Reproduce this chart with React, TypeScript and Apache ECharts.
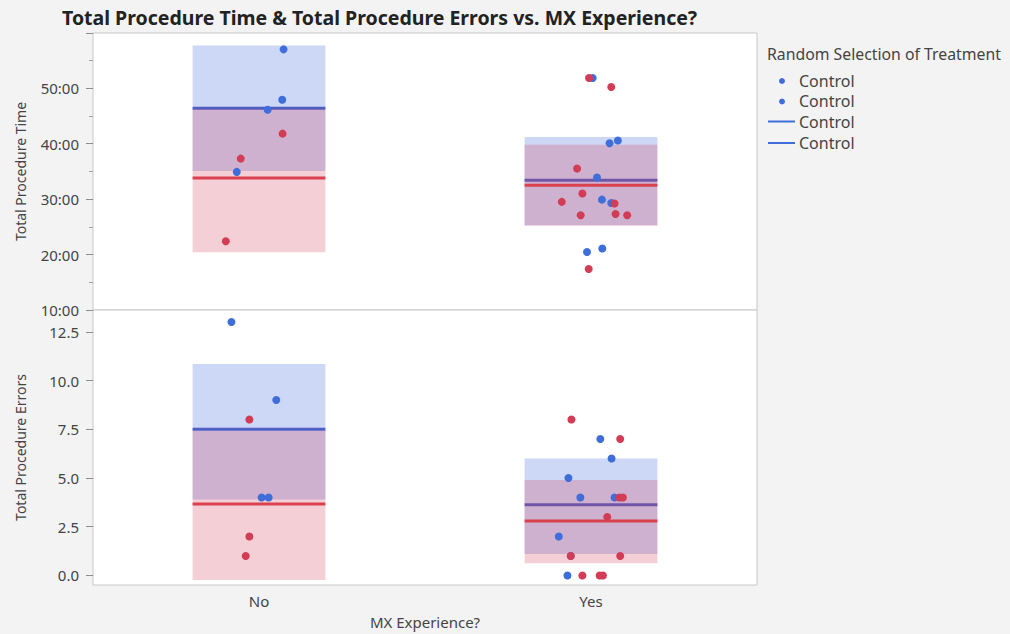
import React, { useEffect, useRef } from 'react';
import * as echarts from 'echarts';

const categories = ['No', 'Yes'];
const legendTitle = 'Random Selection of Treatment';
const legendLabels = ['Control', 'Control', 'Control', 'Control'];
const timeTicks = [10, 20, 30, 40, 50];
const errorTicks = [0, 2.5, 5, 7.5, 10, 12.5];

// Total Procedure Time (minutes) – points per category, with horizontal jitter
const timeBlueNo = [57.0, 47.9, 46.1, 34.9];
const timeBlueNoJitter = [0.074, 0.07, 0.026, -0.067];
const timeRedNo = [41.8, 37.3, 22.4];
const timeRedNoJitter = [0.071, -0.055, -0.1];
const timeBlueYes = [51.85, 40.07, 40.56, 33.9, 29.9, 29.3, 20.45, 21.1];
const timeBlueYesJitter = [0.005, 0.056, 0.081, 0.018, 0.033, 0.061, -0.012, 0.034];
const timeRedYes = [51.85, 50.2, 35.5, 31.0, 29.5, 29.2, 27.1, 27.3, 27.1, 17.4];
const timeRedYesJitter = [-0.006, 0.061, -0.042, -0.026, -0.088, 0.071, -0.031, 0.074, 0.109, -0.007];

// Total Procedure Errors
const errBlueNo = [13, 9, 4, 4];
const errBlueNoJitter = [-0.083, 0.052, 0.008, 0.029];
const errRedNo = [8, 2, 1];
const errRedNoJitter = [-0.029, -0.029, -0.04];
const errBlueYes = [7, 6, 5, 4, 4, 2, 1, 0];
const errBlueYesJitter = [0.028, 0.062, -0.068, -0.032, 0.071, -0.097, -0.061, -0.071];
const errRedYes = [8, 7, 4, 4, 3, 1, 1, 0, 0, 0];
const errRedYesJitter = [-0.059, 0.088, 0.086, 0.096, 0.049, -0.061, 0.088, -0.026, 0.026, 0.036];

// Boxes [low, high] and mean lines per category (No, Yes)
const timeBoxBlue = [[35.05, 57.7], [25.3, 41.2]];
const timeMeanBlue = [46.4, 33.4];
const timeBoxRed = [[20.4, 46.2], [25.2, 39.8]];
const timeMeanRed = [33.8, 32.5];
const errBoxBlue = [[3.9, 10.85], [1.1, 6.0]];
const errMeanBlue = [7.5, 3.625];
const errBoxRed = [[-0.23, 7.41], [0.63, 4.9]];
const errMeanRed = [3.67, 2.8];

const BLUE = '#3f6edb';
const RED = '#d23c55';
const BLUE_FILL = 'rgba(60,100,220,0.26)';
const RED_FILL = 'rgba(212,62,92,0.25)';
const BLUE_LINE = '#4f5ec2';
const RED_LINE = '#d9414f';
const FONT = "'Noto Sans', 'Open Sans', sans-serif";
const TXT = '#444';
const HALF = 0.2;

function pts(vals: number[], jit: number[], cat: number) {
  return vals.map((v, i) => [cat + jit[i], v]);
}

function boxSeries(grid: number, boxes: number[][], fill: string, z: number) {
  return {
    type: 'custom',
    xAxisIndex: grid,
    yAxisIndex: grid,
    z,
    silent: true,
    data: boxes.map((b, i) => [i, b[0], b[1]]),
    encode: { x: 0, y: [1, 2] },
    renderItem: (params: any, api: any) => {
      const c = api.value(0);
      const p1 = api.coord([c - HALF, api.value(2)]);
      const p2 = api.coord([c + HALF, api.value(1)]);
      return {
        type: 'rect',
        shape: { x: p1[0], y: p1[1], width: p2[0] - p1[0], height: p2[1] - p1[1] },
        style: { fill },
      };
    },
  };
}

function meanSeries(grid: number, means: number[], stroke: string, z: number) {
  return {
    type: 'custom',
    xAxisIndex: grid,
    yAxisIndex: grid,
    z,
    silent: true,
    data: means.map((m, i) => [i, m]),
    encode: { x: 0, y: 1 },
    renderItem: (params: any, api: any) => {
      const c = api.value(0);
      const p1 = api.coord([c - HALF, api.value(1)]);
      const p2 = api.coord([c + HALF, api.value(1)]);
      return {
        type: 'line',
        shape: { x1: p1[0], y1: p1[1], x2: p2[0], y2: p2[1] },
        style: { stroke, lineWidth: 3 },
      };
    },
  };
}

function scatter(grid: number, data: number[][], color: string, z: number) {
  return {
    type: 'scatter',
    xAxisIndex: grid,
    yAxisIndex: grid,
    z,
    symbolSize: 8,
    itemStyle: { color, opacity: 1 },
    data,
  };
}

export default function App() {
  const ref = useRef<HTMLDivElement>(null);
  useEffect(() => {
    if (!ref.current) return;
    const chart = echarts.init(ref.current, null, { renderer: 'svg' });
    const gridBase = {
      left: 93,
      right: 253,
      show: true,
      backgroundColor: '#ffffff',
      borderColor: '#c8c8c8',
      borderWidth: 1,
    };
    const option: any = {
      animation: false,
      backgroundColor: '#f3f3f3',
      textStyle: { fontFamily: FONT },
      grid: [
        { ...gridBase, top: 33, height: 277 },
        { ...gridBase, top: 310, height: 275 },
      ],
      xAxis: [
        {
          gridIndex: 0,
          type: 'value',
          min: -0.5,
          max: 1.5,
          axisLine: { show: false, onZero: false },
          axisTick: { show: false },
          axisLabel: { show: false },
          splitLine: { show: false },
        },
        {
          gridIndex: 1,
          type: 'value',
          min: -0.5,
          max: 1.5,
          axisLine: { show: false, onZero: false },
          axisTick: { show: false },
          splitLine: { show: false },
          axisLabel: {
            customValues: [0, 1],
            formatter: (v: number) => categories[Math.round(v)],
            fontSize: 15,
            color: TXT,
            fontFamily: FONT,
            margin: 8,
          },
          name: 'MX Experience?',
          nameLocation: 'middle',
          nameGap: 29,
          nameTextStyle: { fontSize: 15, color: TXT, fontFamily: FONT },
        },
      ],
      yAxis: [
        {
          gridIndex: 0,
          type: 'value',
          min: 10,
          max: 59.95,
          interval: 10,
          axisLine: { show: false, onZero: false },
          axisTick: { show: true, length: 7, lineStyle: { color: '#8c8c8c', width: 1 } },
          minorTick: { show: true, splitNumber: 2, length: 4, lineStyle: { color: '#a0a0a0', width: 1 } },
          splitLine: { show: false },
          axisLabel: {
            customValues: timeTicks,
            formatter: (v: number) => `${v}:00`,
            fontSize: 15,
            color: TXT,
            fontFamily: FONT,
            margin: 14,
          },
          name: 'Total Procedure Time',
          nameLocation: 'middle',
          nameGap: 66,
          nameTextStyle: { fontSize: 14, color: TXT, fontFamily: FONT },
        },
        {
          gridIndex: 1,
          type: 'value',
          min: -0.49,
          max: 13.62,
          axisLine: { show: false, onZero: false },
          axisTick: { show: true, length: 7, customValues: errorTicks, lineStyle: { color: '#8c8c8c', width: 1 } },
          splitLine: { show: false },
          axisLabel: {
            customValues: errorTicks,
            formatter: (v: number) => v.toFixed(1),
            fontSize: 15,
            color: TXT,
            fontFamily: FONT,
            margin: 14,
          },
          name: 'Total Procedure Errors',
          nameLocation: 'middle',
          nameGap: 66,
          nameTextStyle: { fontSize: 14, color: TXT, fontFamily: FONT },
        },
      ],
      series: [
        boxSeries(0, timeBoxBlue, BLUE_FILL, 1),
        meanSeries(0, timeMeanBlue, BLUE_LINE, 2),
        boxSeries(0, timeBoxRed, RED_FILL, 3),
        meanSeries(0, timeMeanRed, RED_LINE, 4),
        scatter(0, [...pts(timeBlueNo, timeBlueNoJitter, 0), ...pts(timeBlueYes, timeBlueYesJitter, 1)], BLUE, 5),
        scatter(0, [...pts(timeRedNo, timeRedNoJitter, 0), ...pts(timeRedYes, timeRedYesJitter, 1)], RED, 6),
        boxSeries(1, errBoxBlue, BLUE_FILL, 1),
        meanSeries(1, errMeanBlue, BLUE_LINE, 2),
        boxSeries(1, errBoxRed, RED_FILL, 3),
        meanSeries(1, errMeanRed, RED_LINE, 4),
        scatter(1, [...pts(errBlueNo, errBlueNoJitter, 0), ...pts(errBlueYes, errBlueYesJitter, 1)], BLUE, 5),
        scatter(1, [...pts(errRedNo, errRedNoJitter, 0), ...pts(errRedYes, errRedYesJitter, 1)], RED, 6),
      ],
      graphic: [
        {
          type: 'text',
          x: 62,
          y: 17,
          style: {
            text: 'Total Procedure Time & Total Procedure Errors vs. MX Experience?',
            font: `bold 19.5px ${FONT}`,
            fill: '#222',
            verticalAlign: 'middle',
          },
        },
        {
          type: 'text',
          x: 767,
          y: 54,
          style: { text: legendTitle, font: `15.8px ${FONT}`, fill: TXT, verticalAlign: 'middle' },
        },
        { type: 'circle', shape: { cx: 782, cy: 81, r: 3 }, style: { fill: BLUE } },
        { type: 'circle', shape: { cx: 782, cy: 101.5, r: 3 }, style: { fill: BLUE } },
        { type: 'line', shape: { x1: 768, y1: 121.5, x2: 795, y2: 121.5 }, style: { stroke: BLUE, lineWidth: 2 } },
        { type: 'line', shape: { x1: 768, y1: 143, x2: 795, y2: 143 }, style: { stroke: BLUE, lineWidth: 2 } },
        ...legendLabels.map((t, i) => ({
          type: 'text',
          x: 799,
          y: [80.5, 101, 121.5, 143][i],
          style: { text: t, font: `16px ${FONT}`, fill: TXT, verticalAlign: 'middle' },
        })),
      ],
    };
    chart.setOption(option);
    return () => chart.dispose();
  }, []);
  return (
    <div
      ref={ref}
      style={{ position: 'fixed', left: 0, top: 0, width: 1010, height: 634 }}
    />
  );
}
